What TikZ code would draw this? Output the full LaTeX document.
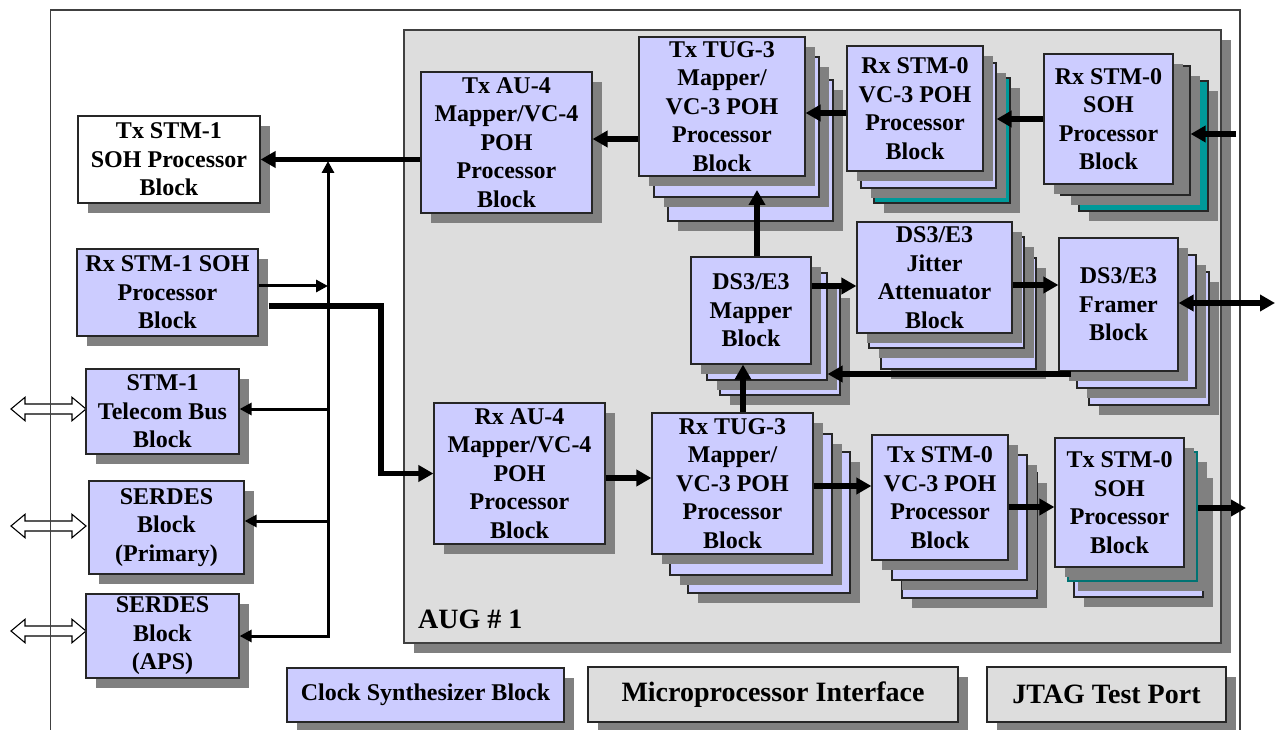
\documentclass[tikz,border=0pt]{standalone}
\usepackage{fontspec}
\setmainfont{Liberation Serif}
\usetikzlibrary{shadows,arrows.meta,calc}
\definecolor{lav}{HTML}{CCCCFF}
\definecolor{shadowc}{HTML}{808080}
\definecolor{augfill}{HTML}{DDDDDD}
\definecolor{tealc}{HTML}{009999}
\definecolor{framec}{HTML}{404040}
\begin{document}
\begin{tikzpicture}[x=1pt,y=-1pt,
  shd/.style={drop shadow={shadow xshift=10pt,shadow yshift=-10pt,fill=shadowc,opacity=1}},
  blk/.style={draw=black!85,line width=1.2pt,fill=lav,inner sep=0pt,align=center,
              font=\bfseries\fontsize{24}{28.5}\selectfont,shd},
  bigtxt/.style={font=\bfseries\fontsize{28}{32}\selectfont},
  box/.style n args={4}{minimum width={(#3-#1)*1pt},minimum height={(#4-#2)*1pt},
              at={({(#1+#3)/2},{(#2+#4)/2})}},
  tealay/.style={fill=tealc},
  graylay/.style={fill=shadowc},
  tealedge/.style={fill=shadowc,draw=tealc!75!black,line width=2pt},
  thk/.style={line width=5.4pt,-{Triangle[length=15pt,width=16pt]}},
  thkboth/.style={line width=5.4pt,{Triangle[length=15pt,width=16pt]}-{Triangle[length=15pt,width=16pt]}},
  thn/.style={line width=3pt,-{Triangle[length=12pt,width=12pt]}},
  thnboth/.style={line width=3pt,{Triangle[length=12pt,width=12pt]}-{Triangle[length=12pt,width=12pt]}},
  hollowarrow/.pic={\draw[line width=1.1pt,fill=white] (-37.5,0) -- (-23.5,-11.7) -- (-23.5,-5) -- (23.5,-5) -- (23.5,-11.7) -- (37.5,0) -- (23.5,11.7) -- (23.5,5) -- (-23.5,5) -- (-23.5,11.7) -- cycle;}
]
\useasboundingbox (0,0) rectangle (1275,730);
\fill[white] (0,0) rectangle (1275,730);

% hollow bidirectional arrows on the left
\pic at (48.5,409) {hollowarrow};
\pic at (48.5,526) {hollowarrow};
\pic at (48.5,631) {hollowarrow};

% outer frame
\draw[framec,line width=1.5pt] (50.5,730) -- (50.5,10) -- (1240,10) -- (1240,730);

% AUG box
\node[blk,fill=augfill,draw=framec,box={404}{30}{1221}{643}] (aug) {};
\node[bigtxt,anchor=base west,inner sep=0pt] (auglabel) at (418,628) {AUG \# 1};

% left blocks
\node[blk,fill=white,box={78}{116}{260}{203}] (txstm1) {Tx STM-1\\SOH Processor\\Block};
\node[blk,box={77}{249}{258}{336}] (rxstm1) {Rx STM-1 SOH\\Processor\\Block};
\node[blk,box={86}{369}{239}{454}] (tel) {STM-1\\Telecom Bus\\Block};
\node[blk,box={89}{481}{244}{574}] (pri) {SERDES\\Block\\(Primary)};
\node[blk,box={86}{594}{239}{678}] (aps) {SERDES\\Block\\(APS)};

% bottom blocks
\node[blk,box={287}{668}{564}{722}] (clk) {Clock Synthesizer Block};
\node[blk,bigtxt,fill=augfill,box={588}{667}{958}{722}] (mpi) {Microprocessor Interface};
\node[blk,bigtxt,fill=augfill,box={987}{667}{1226}{722}] (jtag) {JTAG Test Port};

% Tx AU-4
\node[blk,box={421}{72}{592}{213}] (txau4) {Tx AU-4\\Mapper/VC-4\\POH\\Processor\\Block};

% Tx TUG-3 stack
\node[blk,box={668}{80}{833}{221}] (txtug3c) {};
\node[blk,box={654}{57}{819}{197}] (txtug3b) {};
\node[blk,box={639}{37}{805}{176}] (txtug3) {Tx TUG-3\\Mapper/\\VC-3 POH\\Processor\\Block};

% Rx STM-0 VC-3 stack
\node[blk,tealay,box={874}{78}{1010}{203}] (rxvc3c) {};
\node[blk,box={861}{63}{996}{188}] (rxvc3b) {};
\node[blk,box={847}{46}{983}{171}] (rxvc3) {Rx STM-0\\VC-3 POH\\Processor\\Block};

% Rx STM-0 SOH stack
\node[blk,tealay,box={1079}{81}{1208}{211}] (rxsohc) {};
\node[blk,graylay,box={1061}{66}{1190}{195}] (rxsohb) {};
\node[blk,box={1044}{54}{1173}{184}] (rxsoh) {Rx STM-0\\SOH\\Processor\\Block};

% DS3/E3 Mapper stack
\node[blk,box={720}{288}{840}{395}] (mapperc) {};
\node[blk,box={707}{273}{827}{380}] (mapperb) {};
\node[blk,box={691}{257}{811}{364}] (mapper) {DS3/E3\\Mapper\\Block};

% Jitter stack
\node[blk,box={881}{258}{1036}{369}] (jitterc) {};
\node[blk,box={869}{237}{1024}{348}] (jitterb) {};
\node[blk,box={857}{222}{1012}{333}] (jitter) {DS3/E3\\Jitter\\Attenuator\\Block};

% Framer stack
\node[blk,box={1089}{272}{1209}{405}] (framerc) {};
\node[blk,box={1077}{255}{1196}{388}] (framerb) {};
\node[blk,box={1059}{238}{1178}{371}] (framer) {DS3/E3\\Framer\\Block};

% Rx AU-4
\node[blk,box={434}{403}{605}{544}] (rxau4) {Rx AU-4\\Mapper/VC-4\\POH\\Processor\\Block};

% Rx TUG-3 stack
\node[blk,box={688}{452}{850}{593}] (rxtug3c) {};
\node[blk,box={670}{434}{832}{575}] (rxtug3b) {};
\node[blk,box={652}{413}{813}{554}] (rxtug3) {Rx TUG-3\\Mapper/\\VC-3 POH\\Processor\\Block};

% Tx STM-0 VC-3 stack
\node[blk,box={902}{473}{1037}{598}] (txvc3c) {};
\node[blk,box={892}{455}{1027}{580}] (txvc3b) {};
\node[blk,box={872}{435}{1008}{560}] (txvc3) {Tx STM-0\\VC-3 POH\\Processor\\Block};

% Tx STM-0 SOH stack
\node[blk,box={1074}{468}{1203}{597}] (txsohc) {};
\node[blk,tealedge,box={1068}{452}{1197}{581}] (txsohb) {};
\node[blk,box={1055}{438}{1184}{567}] (txsoh) {Tx STM-0\\SOH\\Processor\\Block};

% helper coordinates
\coordinate (busTop) at (328,161);
\coordinate (busBot) at (328,636);
\coordinate (bT) at (328,409);
\coordinate (bP) at (328,521);
\coordinate (bR) at (328,286);
\coordinate (y139) at (0,139);
\coordinate (y113) at (0,113);
\coordinate (y119) at (0,119);
\coordinate (in1) at (1236,134);
\coordinate (t6) at (757,190);
\coordinate (x743) at (743,0);
\coordinate (y286) at (0,286);
\coordinate (y285) at (0,285);
\coordinate (out1) at (1275,303);
\coordinate (s11) at (1071,374);
\coordinate (y306) at (0,306);
\coordinate (k12) at (381,306);
\coordinate (y478) at (0,478);
\coordinate (y486) at (0,486);
\coordinate (y507) at (0,507);
\coordinate (out2) at (1246,508);

% thick connectors
\draw[thk] (txau4.west |- txstm1.east) -- (txstm1.east);
\draw[thk] (txtug3.west |- y139) -- (txau4.east |- y139);
\draw[thk] (rxvc3.west |- y113) -- (txtug3.east |- y113);
\draw[thk] (rxsoh.west |- y119) -- (rxvc3b.east |- y119);
\draw[thk] (in1) -- (rxsohb.east |- in1);
\draw[thk] (mapper.north -| t6) -- (t6);
\draw[thk] (rxtug3.north -| x743) -- (mapper.south -| x743);
\draw[thk] (mapper.east |- y286) -- (jitter.west |- y286);
\draw[thk] (jitter.east |- y285) -- (framer.west |- y285);
\draw[thkboth] (framer.east |- out1) -- (out1);
\draw[thk] (s11) -- (mapperb.east |- s11);
\draw[thk] ([xshift=10pt]rxstm1.east |- y306) -- (k12) -- (k12 |- rxau4.west) -- (rxau4.west);
\draw[thk] (rxau4.east |- y478) -- (rxtug3.west |- y478);
\draw[thk] (rxtug3.east |- y486) -- (txvc3.west |- y486);
\draw[thk] (txvc3.east |- y507) -- (txsoh.west |- y507);
\draw[thk] (txsohb.east |- out2) -- (out2);

% thin bus connectors
\draw[thnboth] (busTop) -- (busBot) -- (aps.east |- busBot);
\draw[thn] (bT) -- (tel.east |- bT);
\draw[thn] (bP) -- (pri.east |- bP);
\draw[thn] (rxstm1.east |- bR) -- (bR);
\end{tikzpicture}
\end{document}
